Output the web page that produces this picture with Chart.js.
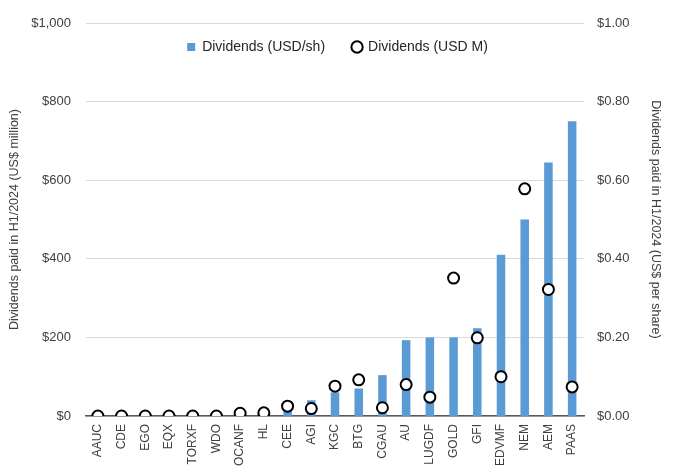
<!DOCTYPE html>
<html>
<head>
<meta charset="utf-8">
<script src="https://cdn.jsdelivr.net/npm/chart.js@4.4.1/dist/chart.umd.min.js"></script>
<style>
  body { margin: 0; background: #fff; }
  #wrap { width: 675px; height: 472px; }
</style>
</head>
<body>
<div id="wrap"><canvas id="myChart" width="675" height="472"></canvas></div>
<script>
// tickers, sorted by dividend per share
const tickers = ["AAUC", "CDE", "EGO", "EQX", "TORXF", "WDO", "OCANF", "HL", "CEE", "AGI", "KGC",
                 "BTG", "CGAU", "AU", "LUGDF", "GOLD", "GFI", "EDVMF", "NEM", "AEM", "PAAS"];
// dividends per share, H1/2024 (right axis)
const perShare = [0, 0, 0, 0, 0, 0, 0, 0, 0.015, 0.04, 0.06,
                  0.07, 0.104, 0.193, 0.20, 0.20, 0.223, 0.41, 0.50, 0.645, 0.75];
// total dividends paid, US$ million (left axis)
const totalM = [0, 0, 0, 0, 0, 0, 7, 8, 25, 19, 76,
                92, 21, 80, 48, 351, 199, 100, 578, 322, 74];
const leftTicks = [0, 200, 400, 600, 800, 1000];

const txt = '#404040';
const fontFam = "'Liberation Sans', Arial, sans-serif";

// legend sits inside the plot, under the top gridline
const legendInside = {
    id: 'legendInside',
    beforeLayout(chart) {
        let lg = chart.legend;
        if (lg && !lg._patched) {
            let orig = lg.fit;
            lg.fit = function () { orig.call(this); this.height = 0; };
            lg._patched = true;
        }
    },
    afterLayout(chart) {
        let lg = chart.legend;
        lg.top = 12;
        lg.bottom = lg.top + 70;
        lg.height = 70;
    }
};

const ctx = document.getElementById('myChart').getContext('2d');
let myChart = new Chart(ctx, {
    data: {
        labels: tickers,
        datasets: [
            {
                type: 'bar', label: 'Dividends (USD/sh)', data: perShare, yAxisID: 'y1',
                backgroundColor: '#5b9bd5', pointStyle: 'rect',
                barPercentage: 0.36, categoryPercentage: 1, order: 2
            },
            {
                type: 'line', label: 'Dividends (USD M)', data: totalM, yAxisID: 'y',
                showLine: false, pointRadius: 5.5, pointBorderWidth: 2,
                pointBackgroundColor: '#fff', pointBorderColor: '#000',
                backgroundColor: '#fff', borderColor: '#000', borderWidth: 2,
                pointStyle: 'circle', order: 1
            }
        ]
    },
    plugins: [legendInside],
    options: {
        responsive: false,
        animation: false,
        layout: { padding: { top: 23, left: 0, right: 0, bottom: 0 } },
        plugins: {
            tooltip: { enabled: false },
            legend: {
                position: 'top',
                labels: {
                    usePointStyle: true, boxWidth: 8, boxHeight: 8, padding: 28,
                    color: '#262626', font: { family: fontFam, size: 14 },
                    sort: (a, b) => a.datasetIndex - b.datasetIndex
                }
            }
        },
        scales: {
            x: {
                grid: { display: false },
                border: { color: '#595959', width: 1.5 },
                ticks: { color: txt, font: { family: fontFam, size: 12 }, minRotation: 90, maxRotation: 90, autoSkip: false, padding: 0 },
                afterFit: s => { s.height = 56; }
            },
            y: {
                position: 'left', min: 0, max: 1000,
                afterBuildTicks: s => { s.ticks = leftTicks.map(v => ({ value: v })); },
                grid: { color: '#d9d9d9', drawTicks: false },
                border: { display: false },
                ticks: { color: txt, font: { family: fontFam, size: 13 }, padding: 15,
                         callback: v => '$' + v.toLocaleString('en-US') },
                title: { display: true, text: 'Dividends paid in H1/2024 (US$ million)', color: txt,
                         font: { family: fontFam, size: 12.5 }, padding: { top: 7, bottom: 0 } },
                afterFit: s => { s.width = 86; }
            },
            y1: {
                position: 'right', min: 0, max: 1,
                afterBuildTicks: s => { s.ticks = leftTicks.map(v => ({ value: v / 1000 })); },
                grid: { display: false, drawTicks: false },
                border: { display: false },
                ticks: { color: txt, font: { family: fontFam, size: 13 }, padding: 13,
                         callback: v => '$' + v.toFixed(2) },
                title: { display: true, text: 'Dividends paid in H1/2024 (US$ per share)', color: txt,
                         font: { family: fontFam, size: 12.5 }, padding: { top: 12, bottom: 0 } },
                afterFit: s => { s.width = 91; }
            }
        }
    }
});
</script>
</body>
</html>
